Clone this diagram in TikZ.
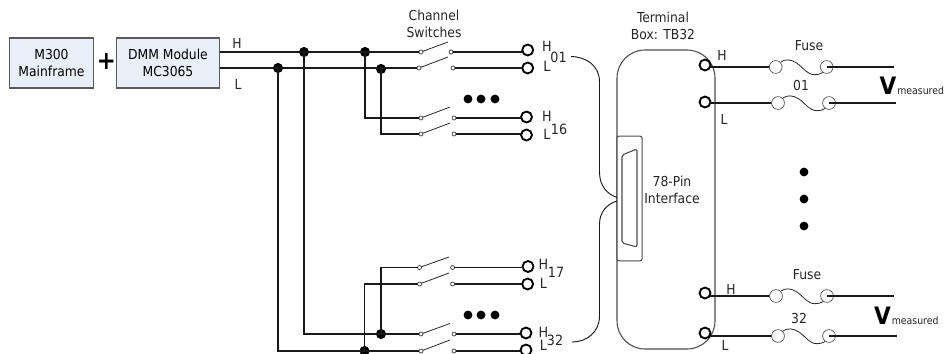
\documentclass[tikz,border=0pt]{standalone}
\usepackage{fontspec}
\setmainfont{DejaVu Sans Condensed}
\definecolor{boxfill}{HTML}{E9EFF8}
\tikzset{
 px/.style={x=0.75pt,y=-0.75pt},
 wire/.style={line width=1.25pt,black!90},
 thin wire/.style={line width=0.6pt,black!85},
 boxnode/.style={draw=black!65,fill=boxfill,line width=0.8pt,inner sep=0pt,align=center,font=\fontsize{10.3pt}{12.8pt}\selectfont},
 lbl/.style={font=\fontsize{10.3pt}{12.8pt}\selectfont,inner sep=0pt,align=center,text=black!85},
 sub/.style={font=\fontsize{10.6pt}{12pt}\selectfont,inner sep=0pt,text=black!85},
 term/.style={circle,draw=black,fill=white,line width=1.4pt,minimum size=8.2pt,inner sep=0pt,outer sep=0pt},
 contact/.style={circle,draw=black!80,fill=white,line width=0.5pt,minimum size=3pt,inner sep=0pt,outer sep=0pt},
 jdot/.style={circle,fill=black,minimum size=7.6pt,inner sep=0pt,outer sep=0pt},
 bigdot/.style={circle,fill=black,minimum size=6.6pt,inner sep=0pt,outer sep=0pt},
 fusec/.style={circle,draw=black!70,fill=white,line width=0.5pt,minimum size=9.6pt,inner sep=0pt,outer sep=0pt},
 vlabel/.style={font=\fontsize{18pt}{18pt}\selectfont\bfseries,inner sep=0pt},
 mlabel/.style={font=\fontsize{7.8pt}{8pt}\selectfont,inner sep=0pt,text=black!85},
 frame/.style={draw=black!70,line width=0.8pt},
 brace/.style={draw=black!90,line width=0.7pt}
}
\newcommand{\swpair}[8]{%
 \node[contact] (#1a) at (#2,#3) {};
 \node[contact] (#1b) at (#4,#5) {};
 \coordinate (#1t) at (#6,#7);
 \node[term] (#1T) at (#8) {};
 \draw[thin wire] (#1a) -- (#1t);
 \draw[wire] (#1b) -- (#1b -| #1T.west);
}
\newcommand{\fuse}[6]{%
 \coordinate (#1e) at (#6,#4);
 \coordinate (#1c) at (#2,#4);
 \draw[wire] (#1c -| #5.east) -- (#1c);
 \node[fusec] (#1l) at (#2,#4) {};
 \node[fusec] (#1r) at (#3,#4) {};
 \draw[wire] (#1r.center) -- (#1e);
 \draw[line width=0.6pt,black!85,shift={(#2,#4)}] (5,-5) .. controls (9,-8) and (15,-8) .. (21,-4) .. controls (28,1) and (31,7.5) .. (39,7.7) .. controls (42,7.8) and (45,7) .. (47,5.5);
}
\begin{document}
\begin{tikzpicture}[px]
\clip (0,0) rectangle (944,353);
% blocks
\node[boxnode,minimum width=63.5pt,minimum height=37.5pt] (main) at (51.5,63) {M300\\Mainframe};
\node[boxnode,minimum width=77pt,minimum height=37.5pt] (dmm) at (168,63) {DMM Module\\MC3065};
\node[inner sep=0pt,font=\fontsize{19pt}{19pt}\selectfont\bfseries] (plus) at (106.5,61.5) {+};
\coordinate (dh) at (220,52);
\coordinate (dl) at (220,68);
\node[lbl] (lh) at (237,43) {H};
\node[lbl] (ll) at (238,84) {L};
\node[lbl] (cs) at (434,23.5) {Channel\\Switches};
\node[lbl] (tb) at (663,25.5) {Terminal\\Box: TB32};

% terminal box
\draw[frame,fill=white,rounded corners=21pt] (617,50) -- (715,50) -- (715,349) -- (617,349) -- cycle;
% interface
\node[draw=black!70,line width=0.8pt,fill=white,rounded corners=1.5pt,minimum width=18.8pt,minimum height=93.5pt,inner sep=0pt] (iface) at (629.5,198.5) {};
\draw[draw=black!70,line width=0.8pt,rounded corners=1.5pt] (622,155) -- (637,149) -- (637,247) -- (622,243) -- cycle;
\node[lbl] (pin) at (672,189.5) {78-Pin\\Interface};

% channel nodes
\swpair{a}{421}{52}{451}{52}{448}{42}{527.7,50}
\swpair{b}{419}{68}{453}{68}{448}{57}{527.7,68}
\swpair{c}{421}{118}{454}{118}{450}{107}{526.5,117}
\swpair{d}{421}{134}{454}{134}{450}{123}{526.5,135}
\swpair{e}{419.5}{267.5}{452.6}{267.5}{449}{257}{528,266.5}
\swpair{f}{419.5}{284}{452.6}{284}{449}{273}{527.6,284}
\swpair{g}{421}{334}{454}{334}{450}{323.5}{526,333}
\swpair{h}{421}{351}{454}{351}{450}{340}{526,350}

% junctions
\node[jdot] (j1) at (304,52) {};
\node[jdot] (j2) at (278,68) {};
\node[jdot] (j3) at (365,52) {};
\node[jdot] (j4) at (381,69) {};
\node[jdot] (j5) at (381,334) {};
\node[jdot] (j6) at (364.5,351) {};

% bus wiring
\draw[wire] (dh) -- (aa.west);
\draw[wire] (dl) -- (ba.west);
\draw[wire] (j3.center) -- (365,118) -- (ca.west);
\draw[wire] (j4.center) -- (381,134) -- (da.west);
\draw[wire] (j1.center) -- (304,334) -- (ga.west);
\draw[wire] (j2.center) -- (278,351) -- (ha.west);
\draw[wire] (j5.center) -- (381,267.5) -- (ea.west);
\draw[wire] (j6.center) -- (364.5,284) -- (fa.west);

% ellipsis dots
\foreach \n/\x in {p/468,q/481,r/495}{
 \node[bigdot] (u\n) at (\x,99) {};
 \node[bigdot] (l\n) at (\x,315) {};
}
\foreach \n/\y in {a/172,b/199,c/226}{ \node[bigdot] (v\n) at (804,\y) {}; }

% channel labels
\node[sub] (h01) at (547,46) {H};
\node[sub] (n01) at (558.5,57) {01};
\node[sub] (l01) at (547,66) {L};
\node[sub] (h16) at (547,116.5) {H};
\node[sub] (n16) at (559,129) {16};
\node[sub] (l16) at (547,134) {L};
\node[sub] (h17) at (543.5,264) {H};
\node[sub] (n17) at (556,272.5) {17};
\node[sub] (l17) at (543.5,283) {L};
\node[sub] (h32) at (543.5,332) {H};
\node[sub] (n32) at (555,340) {32};
\node[sub] (l32) at (543.5,345.5) {L};

% braces
\coordinate (br1) at (571,56.5);
\coordinate (br2) at (572,342);
\draw[brace] (br1) .. controls (587,57) and (599.5,66) .. (599.5,82) -- (599.5,172) .. controls (599.5,186) and (607,194) .. (617,197.5);
\draw[brace] (617,201) .. controls (607,204) and (599.5,212) .. (599.5,224) -- (599.5,316) .. controls (599.5,332) and (587,342) .. (br2);

% terminal box side
\node[term] (t1) at (705,65) {};
\node[term] (t2) at (705,102) {};
\node[term] (t3) at (705,293) {};
\node[term] (t4) at (705,333) {};
\fuse{fa}{775.7}{826.7}{67}{t1}{894}
\fuse{fb}{778}{829}{103}{t2}{896}
\fuse{fc}{776}{827}{296}{t3}{894}
\fuse{fd}{778}{829}{336}{t4}{897}

\node[lbl] (lf1) at (809,46) {Fuse};
\node[lbl] (l011) at (801,86) {01};
\node[lbl] (lf2) at (807,275) {Fuse};
\node[lbl] (l322) at (799,318) {32};
\node[lbl] (th1) at (722,55) {H};
\node[lbl] (tl1) at (724,119) {L};
\node[lbl] (th2) at (731,289) {H};
\node[lbl] (tl2) at (725,345) {L};
\node[vlabel] (v1) at (888,86) {V};
\node[mlabel,anchor=west] (m1) at (897,91) {measured};
\node[vlabel] (v2) at (882.5,316) {V};
\node[mlabel,anchor=west] (m2) at (891.5,321) {measured};
\end{tikzpicture}
\end{document}
